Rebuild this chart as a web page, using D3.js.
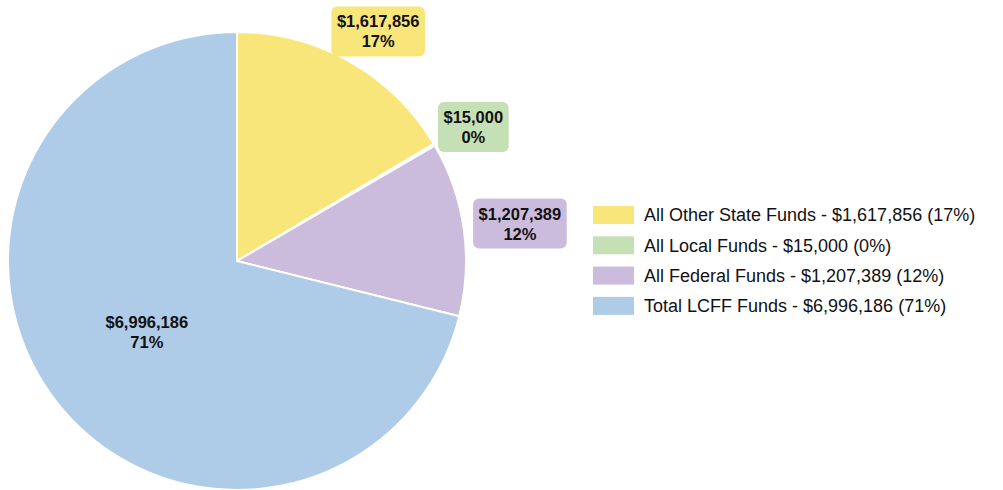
<!DOCTYPE html>
<html><head><meta charset="utf-8">
<script src="https://cdn.jsdelivr.net/npm/d3@7"></script>
<style>
html,body{margin:0;padding:0;background:#fff;}
svg{display:block;font-family:"Liberation Sans",Arial,Helvetica,sans-serif;}
</style></head>
<body>
<svg id="chart" width="1003" height="490"></svg>
<script>
const categories = ["All Other State Funds", "All Local Funds", "All Federal Funds", "Total LCFF Funds"];
const values = [1617856, 15000, 1207389, 6996186];
const percents = [17, 0, 12, 71];
const colors = ["#f9e67b", "#c6e0b5", "#cbbbdc", "#aecbe8"];

const svg = d3.select("#chart");
const cx = 237, cy = 261, R = 229;
const total = d3.sum(values);
const fmt = d3.format("$,");

const data = categories.map((c, i) => ({cat: c, value: values[i], pct: percents[i] + "%", color: colors[i]}));
const pie = d3.pie().sort(null).value(d => d.value);
const arcs = pie(data);
const arc = d3.arc().innerRadius(0).outerRadius(R);

const g = svg.append("g").attr("transform", `translate(${cx},${cy})`);
g.selectAll("path").data(arcs).join("path")
  .attr("d", arc)
  .attr("fill", d => d.data.color)
  .attr("stroke", "#fff")
  .attr("stroke-width", 2);

// labels
const lineH = 20, fs = 16.5;
arcs.forEach(a => {
  const frac = a.data.value / total;
  const lines = [fmt(a.data.value), a.data.pct];
  if (frac > 0.25) {
    const [x, y] = arc.centroid(a);
    const t = g.append("text").attr("text-anchor", "middle")
      .attr("font-size", fs).attr("font-weight", "bold").attr("fill", "#111");
    lines.forEach((l, i) => t.append("tspan").attr("x", x).attr("y", y - 4 + i * lineH).text(l));
  } else {
    const mid = (a.startAngle + a.endAngle) / 2;
    const s = Math.sin(mid), c = -Math.cos(mid);
    const ar = R + 10;
    const ax = s * ar, ay = c * ar;
    const lg = g.append("g");
    const t = lg.append("text").attr("text-anchor", "middle")
      .attr("font-size", fs).attr("font-weight", "bold").attr("fill", "#111");
    lines.forEach((l, i) => t.append("tspan").attr("x", 0).attr("y", i * lineH).text(l));
    const bb = t.node().getBBox();
    const bw = bb.width + 11, bh = 50;
    const bx = ax + s * bw / 2, by = ay + c * bh / 2;
    lg.insert("rect", "text")
      .attr("x", bx - bw / 2).attr("y", by - bh / 2)
      .attr("width", bw).attr("height", bh)
      .attr("rx", 6).attr("ry", 6)
      .attr("fill", a.data.color);
    t.attr("transform", `translate(${bx},${by - 4})`);
  }
});

// legend
const legend = svg.append("g").attr("transform", "translate(593,206)");
const rowH = 30.3;
const rows = legend.selectAll("g").data(data).join("g")
  .attr("transform", (d, i) => `translate(0,${i * rowH})`);
rows.append("rect").attr("width", 41).attr("height", 18).attr("fill", d => d.color);
rows.append("text").attr("x", 51).attr("y", 9).attr("dy", "0.35em")
  .attr("font-size", 18).attr("fill", "#111")
  .text(d => `${d.cat} - ${fmt(d.value)} (${d.pct})`);
</script>
</body></html>
